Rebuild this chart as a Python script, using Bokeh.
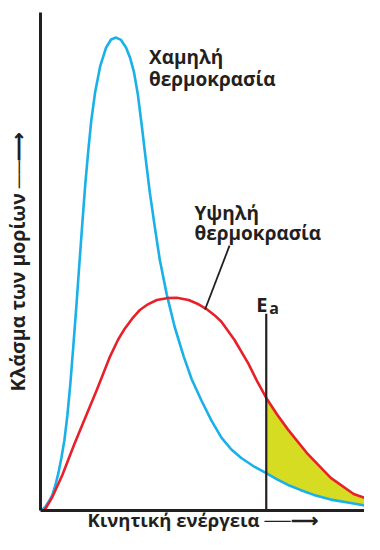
from bokeh.plotting import figure
from bokeh.models import Range1d, FixedTicker, Label
from bokeh.embed import file_html
from bokeh.resources import INLINE

# Kinetic energy (arbitrary units) vs fraction of molecules (relative; low-T peak = 1)
low_t_energy = [0.03, 0.146, 0.263, 0.351, 0.439, 0.526, 0.614, 0.702, 0.789, 0.877, 0.965,
                1.053, 1.140, 1.228, 1.316, 1.404, 1.491, 1.608, 1.754, 1.930, 2.076, 2.222,
                2.368, 2.515, 2.632, 2.749, 2.865, 2.982, 3.099, 3.216, 3.363, 3.509, 3.713,
                3.947, 4.211, 4.444, 4.737, 5.029, 5.322, 5.614, 5.906, 6.257, 6.64, 6.959,
                7.281, 7.661, 8.041, 8.538, 9.035, 9.503, 10.0]
low_t_fraction = [0.0, 0.008, 0.021, 0.033, 0.054, 0.079, 0.111, 0.148, 0.200, 0.267, 0.347,
                  0.430, 0.518, 0.605, 0.689, 0.760, 0.823, 0.885, 0.939, 0.979, 0.996, 1.0,
                  0.995, 0.979, 0.958, 0.927, 0.879, 0.812, 0.741, 0.672, 0.599, 0.530, 0.457,
                  0.388, 0.326, 0.278, 0.232, 0.190, 0.154, 0.129, 0.111, 0.094, 0.079, 0.066,
                  0.054, 0.043, 0.033, 0.023, 0.017, 0.011, 0.008]

high_t_energy = [0.117, 0.351, 0.643, 0.994, 1.316, 1.667, 2.047, 2.281, 2.456, 2.690, 2.924,
                 3.158, 3.421, 3.713, 4.006, 4.357, 4.649, 4.883, 5.117, 5.322, 5.702, 6.111,
                 6.374, 6.64, 6.959, 7.281, 7.865, 8.538, 9.211, 10.0]
high_t_fraction = [0.0, 0.029, 0.075, 0.140, 0.196, 0.257, 0.326, 0.361, 0.382, 0.405, 0.424,
                   0.436, 0.445, 0.449, 0.450, 0.445, 0.436, 0.426, 0.413, 0.399, 0.361, 0.311,
                   0.273, 0.238, 0.203, 0.171, 0.119, 0.069, 0.035, 0.015]

activation_energy = 6.64
activation_line_top = 0.416

low_t_label = ["Χαμηλή", "θερμοκρασία"]
low_t_label_pos = (3.19, [0.958, 0.913])
high_t_label = ["Υψηλή", "θερμοκρασία"]
high_t_label_pos = (4.53, [0.630, 0.586])
high_t_pointer_x = [4.84, 5.56]
high_t_pointer_y = [0.425, 0.560]

x_title = "Κινητική ενέργεια ──⟶"
y_title = "Κλάσμα των μορίων ──⟶"

INK = "#231f20"
FONT = "Open Sans"

p = figure(width=364, height=534, output_backend="svg", toolbar_location=None,
           x_range=Range1d(0, 9.53), y_range=Range1d(0, 1.053),
           min_border_left=38, min_border_right=0, min_border_top=12, min_border_bottom=24)
p.outline_line_color = None
p.xgrid.visible = False
p.ygrid.visible = False
p.background_fill_color = "white"
p.border_fill_color = "white"

for ax in (p.xaxis, p.yaxis):
    ax.ticker = FixedTicker(ticks=[])
    ax.major_tick_line_color = None
    ax.minor_tick_line_color = None
    ax.major_tick_out = 0
    ax.major_tick_in = 0
    ax.major_label_text_font_size = "0px"
    ax.major_label_standoff = 0
    ax.axis_line_width = 3
    ax.axis_line_color = INK
    ax.axis_label_text_font = FONT
    ax.axis_label_text_font_style = "bold"
    ax.axis_label_text_color = INK
p.xaxis.axis_label = x_title
p.yaxis.axis_label = y_title
p.xaxis.axis_label_text_font_size = "18.5px"
p.yaxis.axis_label_text_font_size = "19.5px"
p.xaxis.axis_label_standoff = -4
p.yaxis.axis_label_standoff = 10

# shaded region beyond activation energy
fx = [x for x in high_t_energy if x >= activation_energy] + \
     [x for x in reversed(low_t_energy) if x >= activation_energy]
fy = [y for x, y in zip(high_t_energy, high_t_fraction) if x >= activation_energy] + \
     [y for x, y in zip(reversed(low_t_energy), reversed(low_t_fraction)) if x >= activation_energy]
p.patch(fx, fy, fill_color="#d5dc22", line_color=None)

p.line(low_t_energy, low_t_fraction, line_color="#1ab0e8", line_width=2.6, line_join="round")
p.line(high_t_energy, high_t_fraction, line_color="#e8202a", line_width=2.6, line_join="round")

p.segment(x0=[activation_energy], y0=[0], x1=[activation_energy], y1=[activation_line_top],
          line_color=INK, line_width=2.2)
p.line(high_t_pointer_x, high_t_pointer_y, line_color=INK, line_width=1.8)

def add_label(x, y, text, size="19px", xo=0, yo=0):
    p.add_layout(Label(x=x, y=y, text=text, text_font=FONT, text_font_style="bold",
                       text_font_size=size, text_color=INK, text_baseline="alphabetic",
                       x_offset=xo, y_offset=yo))

for t, yy in zip(low_t_label, low_t_label_pos[1]):
    add_label(low_t_label_pos[0], yy, t)
for t, yy in zip(high_t_label, high_t_label_pos[1]):
    add_label(high_t_label_pos[0], yy, t)

add_label(activation_energy, 0.436, "E", size="20px", xo=-10)
add_label(activation_energy, 0.436, "a", size="16px", xo=3, yo=-4)

open("out.html", "w").write(file_html(p, INLINE))
